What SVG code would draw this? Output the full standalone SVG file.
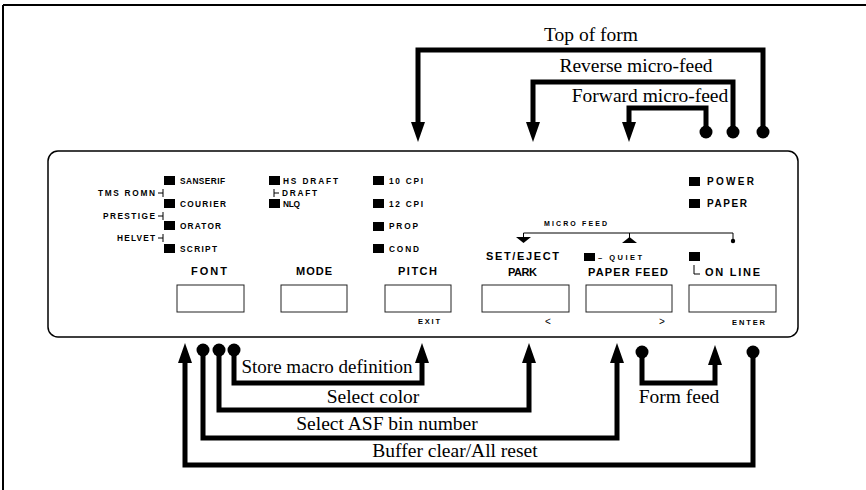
<svg xmlns="http://www.w3.org/2000/svg" width="866" height="490" viewBox="0 0 866 490">
<style>
.led{fill:#000}
.btn{fill:none;stroke:#222;stroke-width:1}
.s{font-family:"Liberation Sans",Arial,sans-serif;font-weight:bold;fill:#000;font-size:8.3px}
.lb{font-size:11px}
.sm{font-size:7.5px}
.serif{font-family:"Liberation Serif","Times New Roman",serif;font-size:19.5px;fill:#000}
.conn{fill:none;stroke:#000;stroke-width:5;stroke-linejoin:miter}
.thin{fill:none;stroke:#000;stroke-width:1}
</style>
<defs>
<marker id="ah" viewBox="0 0 20 14" refX="0" refY="7" markerWidth="20" markerHeight="14" markerUnits="userSpaceOnUse" orient="auto">
<path d="M0,0 L20,7 L0,14 z" fill="#000"/>
</marker>
<marker id="dot" viewBox="0 0 14 14" refX="7" refY="7" markerWidth="14" markerHeight="14" markerUnits="userSpaceOnUse">
<circle cx="7" cy="7" r="6.5" fill="#000"/>
</marker>
</defs>
<rect width="866" height="490" fill="#fff"/>
<g id="frame">
<path d="M3,5 H866 M3,5 V490" fill="none" stroke="#000" stroke-width="2"/>
<rect x="48" y="151" width="750" height="186" rx="10" fill="none" stroke="#000" stroke-width="1.5"/>
</g>
<g id="font">
<rect class="led" x="164" y="176" width="11" height="9"/>
<rect class="led" x="164" y="199" width="11" height="9"/>
<rect class="led" x="164" y="221" width="11" height="9"/>
<rect class="led" x="164" y="244" width="11" height="9"/>
<text class="s" x="180" y="184" textLength="45" lengthAdjust="spacing">SANSERIF</text>
<text class="s" x="180" y="207" textLength="46" lengthAdjust="spacing">COURIER</text>
<text class="s" x="180" y="229" textLength="41" lengthAdjust="spacing">ORATOR</text>
<text class="s" x="180" y="252" textLength="37" lengthAdjust="spacing">SCRIPT</text>
<text class="s" x="155" y="196" text-anchor="end" textLength="57" lengthAdjust="spacing">TMS ROMN</text>
<text class="s" x="155" y="219" text-anchor="end" textLength="52" lengthAdjust="spacing">PRESTIGE</text>
<text class="s" x="155" y="241" text-anchor="end" textLength="38" lengthAdjust="spacing">HELVET</text>
<path class="thin" d="M158,193 H163 M163,189 V197 M158,216 H163 M163,212 V220 M158,238 H163 M163,234 V242"/>
<text class="s lb" x="191" y="275" textLength="36" lengthAdjust="spacing">FONT</text>
<rect class="btn" x="177" y="285" width="67" height="27"/>
</g>
<g id="mode">
<rect class="led" x="269" y="176" width="11" height="9"/>
<rect class="led" x="269" y="199" width="11" height="9"/>
<text class="s" x="283" y="184" textLength="55" lengthAdjust="spacing">HS DRAFT</text>
<path class="thin" d="M274,189 V197 M274,193 H279"/>
<text class="s" x="282" y="196" textLength="35" lengthAdjust="spacing">DRAFT</text>
<text class="s" x="283" y="207" textLength="17" lengthAdjust="spacing">NLQ</text>
<text class="s lb" x="296" y="275" textLength="36" lengthAdjust="spacing">MODE</text>
<rect class="btn" x="281" y="285" width="66" height="27"/>
</g>
<g id="pitch">
<rect class="led" x="373" y="176" width="11" height="9"/>
<rect class="led" x="373" y="199" width="11" height="9"/>
<rect class="led" x="373" y="222" width="11" height="9"/>
<rect class="led" x="373" y="244" width="11" height="9"/>
<text class="s" x="389" y="184" textLength="34" lengthAdjust="spacing">10 CPI</text>
<text class="s" x="389" y="207" textLength="34" lengthAdjust="spacing">12 CPI</text>
<text class="s" x="389" y="229" textLength="29" lengthAdjust="spacing">PROP</text>
<text class="s" x="389" y="252" textLength="30" lengthAdjust="spacing">COND</text>
<text class="s lb" x="398" y="275" textLength="39" lengthAdjust="spacing">PITCH</text>
<rect class="btn" x="385" y="285" width="66" height="27"/>
<text class="s sm" x="418" y="324" textLength="22" lengthAdjust="spacing">EXIT</text>
</g>
<g id="microfeed">
<text class="s" style="font-size:7px" x="544" y="226" textLength="63" lengthAdjust="spacing">MICRO FEED</text>
<path class="thin" d="M523.5,238 V233 H733 V240 M629.5,233 V238"/>
<polygon points="516,237 531,237 523.5,243" fill="#000"/>
<polygon points="622,243 637,243 629.5,237" fill="#000"/>
<circle cx="733" cy="241" r="2.2" fill="#000"/>
</g>
<g id="setEject">
<text class="s lb" x="486" y="260" textLength="73" lengthAdjust="spacing">SET/EJECT</text>
<text class="s lb" x="508" y="276" textLength="29" lengthAdjust="spacing">PARK</text>
<rect class="btn" x="482" y="285" width="87" height="27"/>
<text class="s" style="font-size:10px;font-weight:normal" x="545" y="325">&lt;</text>
</g>
<g id="paperFeed">
<rect class="led" x="584" y="253" width="11" height="8"/>
<text class="s sm" x="598" y="260" textLength="44" lengthAdjust="spacing">– QUIET</text>
<text class="s lb" x="588" y="276" textLength="80" lengthAdjust="spacing">PAPER FEED</text>
<rect class="btn" x="586" y="285" width="86" height="27"/>
<text class="s" style="font-size:10px;font-weight:normal" x="659" y="325">&gt;</text>
</g>
<g id="onLine">
<rect class="led" x="689" y="252" width="11" height="9"/>
<path class="thin" d="M694,265 V274 H700"/>
<text class="s lb" x="705" y="276" textLength="55" lengthAdjust="spacing">ON LINE</text>
<rect class="btn" x="689" y="285" width="87" height="27"/>
<text class="s sm" x="732" y="325" textLength="33" lengthAdjust="spacing">ENTER</text>
</g>
<g id="status">
<rect class="led" x="689" y="177" width="11" height="9"/>
<rect class="led" x="689" y="199" width="11" height="9"/>
<text class="s" style="font-size:10px" x="707" y="185" textLength="47" lengthAdjust="spacing">POWER</text>
<text class="s" style="font-size:10px" x="707" y="207" textLength="40" lengthAdjust="spacing">PAPER</text>
</g>
<g id="connectors">
<path class="conn" d="M763,132 V50 H418 V122" marker-start="url(#dot)" marker-end="url(#ah)"/>
<path class="conn" d="M733,132 V82 H533 V122" marker-start="url(#dot)" marker-end="url(#ah)"/>
<path class="conn" d="M706,132 V108 H629 V122" marker-start="url(#dot)" marker-end="url(#ah)"/>
<path class="conn" d="M753,352 V465 H185 V363" marker-start="url(#dot)" marker-end="url(#ah)"/>
<path class="conn" d="M203,350 V438 H617 V363" marker-start="url(#dot)" marker-end="url(#ah)"/>
<path class="conn" d="M219,350 V410 H529 V363" marker-start="url(#dot)" marker-end="url(#ah)"/>
<path class="conn" d="M234,350 V383 H422 V363" marker-start="url(#dot)" marker-end="url(#ah)"/>
<path class="conn" d="M642,352 V383 H715 V365" marker-start="url(#dot)" marker-end="url(#ah)"/>
</g>
<g id="labels">
<text class="serif" x="591" y="41" text-anchor="middle">Top of form</text>
<text class="serif" x="636" y="72" text-anchor="middle">Reverse micro-feed</text>
<text class="serif" x="650" y="102" text-anchor="middle">Forward micro-feed</text>
<text class="serif" x="327" y="373" text-anchor="middle" textLength="171" lengthAdjust="spacingAndGlyphs">Store macro definition</text>
<text class="serif" x="373" y="403" text-anchor="middle">Select color</text>
<text class="serif" x="387" y="430" text-anchor="middle">Select ASF bin number</text>
<text class="serif" x="455" y="457" text-anchor="middle">Buffer clear/All reset</text>
<text class="serif" x="679" y="403" text-anchor="middle">Form feed</text>
</g>
</svg>
